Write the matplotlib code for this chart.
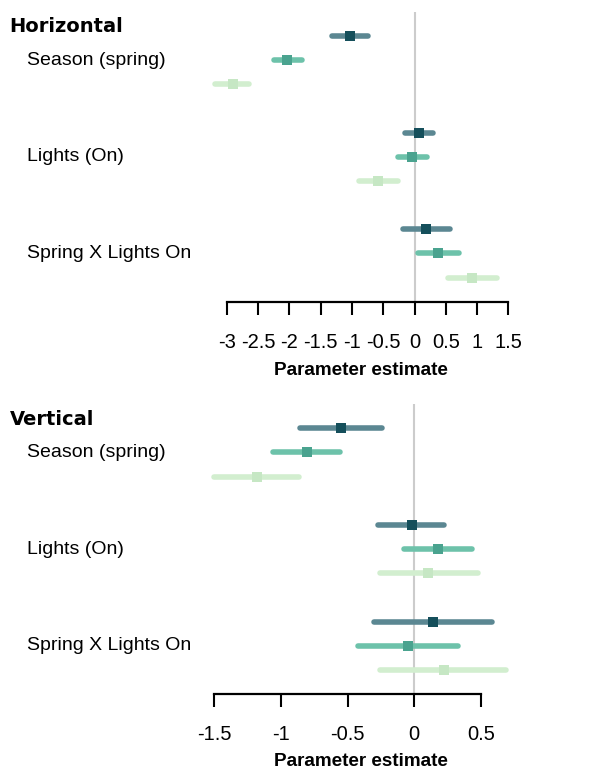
import numpy as np
import matplotlib.pyplot as plt
from matplotlib.transforms import blended_transform_factory

plt.rcParams['axes.unicode_minus'] = False

terms = ["Season (spring)", "Lights (On)", "Spring X Lights On"]

# horizontal movement: estimate, lower and upper CI per term, one list per series
h_est = [[-1.03, 0.07, 0.19], [-2.03, -0.04, 0.38], [-2.90, -0.58, 0.92]]
h_lo = [[-1.31, -0.15, -0.19], [-2.25, -0.26, 0.05], [-3.19, -0.88, 0.53]]
h_hi = [[-0.75, 0.29, 0.57], [-1.80, 0.20, 0.71], [-2.64, -0.26, 1.31]]
h_ticks = [-3, -2.5, -2, -1.5, -1, -0.5, 0, 0.5, 1, 1.5]
h_ticklabels = ["-3", "-2.5", "-2", "-1.5", "-1", "-0.5", "0", "0.5", "1", "1.5"]

# vertical movement
v_est = [[-0.55, -0.02, 0.14], [-0.805, 0.18, -0.045], [-1.18, 0.10, 0.22]]
v_lo = [[-0.86, -0.27, -0.30], [-1.06, -0.08, -0.42], [-1.50, -0.26, -0.26]]
v_hi = [[-0.245, 0.225, 0.58], [-0.555, 0.43, 0.33], [-0.865, 0.475, 0.69]]
v_ticks = [-1.5, -1, -0.5, 0, 0.5]
v_ticklabels = ["-1.5", "-1", "-0.5", "0", "0.5"]

bar_cols = ["#5b8792", "#6dc2aa", "#d2eecf"]
pt_cols = ["#154f5b", "#4aa38f", "#c6e7c4"]

W, H = 599, 769
fig = plt.figure(figsize=(W / 100, H / 100), dpi=100)


def panel(rect, est, lo, hi, ticks, ticklabels, xlim, title, title_y, xlabel_y):
    ax = fig.add_axes(rect)
    ax.axvline(0, color="#cccccc", lw=1.5, zorder=0)
    for s in range(3):
        for g in range(3):
            y = g * 4 + s
            ax.plot([lo[s][g], hi[s][g]], [y, y], color=bar_cols[s], lw=4,
                    solid_capstyle="round", clip_on=False, zorder=2)
            ax.plot(est[s][g], y, "s", color=pt_cols[s], ms=7.5, mew=0,
                    clip_on=False, zorder=3)
    ax.set_xlim(*xlim)
    ax.set_ylim(11.0, -1.0)
    for side in ["top", "right", "left"]:
        ax.spines[side].set_visible(False)
    ax.spines["bottom"].set_linewidth(1.6)
    ax.spines["bottom"].set_bounds(ticks[0], ticks[-1])
    ax.set_yticks([])
    ax.set_xticks(ticks)
    ax.set_xticklabels(ticklabels, family="Liberation Sans", fontsize=14.5)
    ax.tick_params(axis="x", length=9, width=1.5, pad=13.5, direction="out")
    tr = blended_transform_factory(fig.transFigure, ax.transData)
    for g, t in enumerate(terms):
        ax.text(27.5 / W, g * 4 + 1, t, transform=tr, va="center", ha="left",
                family="Liberation Sans", fontsize=14)
    fig.text(9.5 / W, 1 - title_y / H, title, family="DejaVu Sans",
             fontweight="bold", fontsize=14, va="baseline", ha="left")
    fig.text(361 / W, 1 - xlabel_y / H, "Parameter estimate",
             family="Liberation Sans", fontweight="bold", fontsize=13.6,
             va="baseline", ha="center")
    return ax


panel([226.7 / W, (H - 301.7) / H, 281.7 / W, 290 / H], h_est, h_lo, h_hi,
      h_ticks, h_ticklabels, (-3, 1.5), "Horizontal", 32.3, 375)
panel([214.3 / W, (H - 694) / H, 300 / W, 290 / H], v_est, v_lo, v_hi,
      v_ticks, v_ticklabels, (-1.5, 0.75), "Vertical", 425, 766.5)

fig.savefig("out.png", dpi=100)
